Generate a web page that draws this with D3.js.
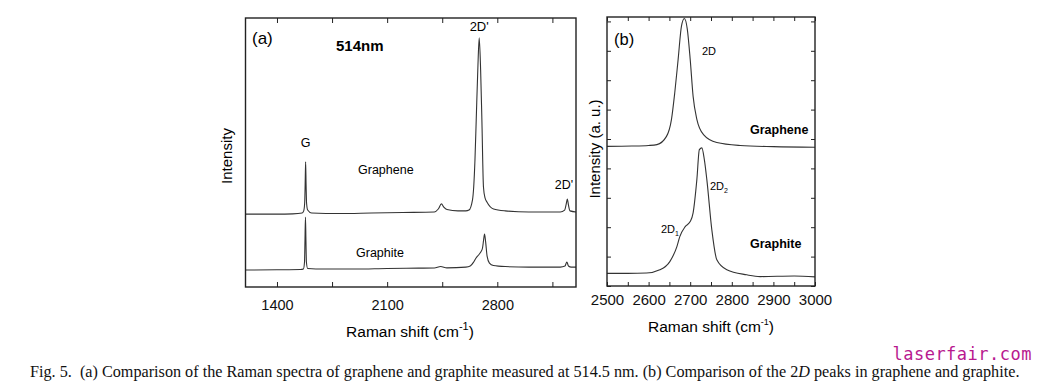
<!DOCTYPE html>
<html>
<head>
<meta charset="utf-8">
<script src="https://cdn.jsdelivr.net/npm/d3@7"></script>
<style>
  body { margin: 0; background: #fff; }
  svg { display: block; font-family: "Liberation Sans", Arial, sans-serif; }
  .frame { fill: none; stroke: #222; stroke-width: 1.4; }
  .spec { fill: none; stroke: #333; stroke-width: 1.1; }
  .tick line { stroke: #222; }
</style>
</head>
<body>
<script>
// (a) full spectra, 514 nm : [Raman shift, intensity]
var grapheneA = [
  [1200,27.1],[1400,27.1],[1500,27.2],[1560,27.5],[1570,28.3],[1576,31.2],[1579,37.9],
  [1582,46.5],[1585,37.9],[1588,31.2],[1595,28.6],[1620,27.5],[1800,27.3],[2000,27.5],
  [2200,27.7],[2400,27.9],[2425,29.0],[2445,30.9],[2460,29.7],[2480,28.8],[2550,28.3],
  [2600,28.3],[2620,28.6],[2642,32.3],[2650,37.2],[2658,47.2],[2666,62.1],[2676,80.7],
  [2685,92.6],[2694,80.7],[2702,62.1],[2712,37.2],[2722,33.1],[2734,31.6],[2776,29.0],
  [2850,28.3],[3000,27.9],[3200,27.9],[3228,28.6],[3238,30.9],[3245,32.7],[3252,30.5],
  [3262,28.3],[3300,27.9]
];
var graphiteA = [
  [1200,6.3],[1400,6.4],[1550,6.5],[1568,6.7],[1575,9.3],[1578,17.5],[1581,26.0],
  [1584,17.5],[1587,9.3],[1595,6.9],[1700,6.7],[1900,6.7],[2100,6.9],[2300,7.0],
  [2400,7.06],[2440,7.6],[2480,7.1],[2600,7.4],[2628,7.8],[2650,9.3],[2665,10.8],
  [2681,11.9],[2695,13.0],[2706,14.5],[2713,17.5],[2719,19.7],[2726,16.7],[2735,11.5],
  [2750,8.9],[2775,8.0],[2850,7.6],[3000,7.4],[3200,7.4],[3230,7.8],[3242,9.3],
  [3252,7.8],[3270,7.4],[3300,7.4]
];
// (b) 2D region
var grapheneB = [
  [2500,4.75],[2560,4.76],[2600,4.78],[2620,4.81],[2643,5.09],[2655,5.67],[2663,6.59],
  [2671,7.71],[2679,8.84],[2686,9.10],[2693,8.74],[2700,7.71],[2707,6.45],[2716,5.67],
  [2732,5.15],[2764,4.88],[2820,4.78],[2900,4.74],[3000,4.72]
];
var graphiteB = [
  [2500,0.43],[2550,0.43],[2595,0.44],[2627,0.55],[2651,0.83],[2668,1.34],[2675,1.68],
  [2688,2.02],[2700,2.19],[2707,2.49],[2716,3.62],[2722,4.64],[2728,4.70],[2734,4.30],
  [2740,3.62],[2752,1.91],[2764,0.89],[2788,0.55],[2836,0.38],[2868,0.32],[2950,0.34],
  [3000,0.31]
];

var ticksA = [1400, 2100, 2800];
var minorA = [1750, 2450, 3150];
var ticksB = [2500, 2600, 2700, 2800, 2900, 3000];
var minorB = [2550, 2650, 2750, 2850, 2950];
var yTicksB = [0, 1, 2, 3, 4, 5, 6, 7, 8, 9];

var svg = d3.select("body").append("svg")
    .attr("width", 1039)
    .attr("height", 387);

svg.append("rect").attr("width", 1039).attr("height", 387).attr("fill", "#fff");

// ---------- panel (a)
var xA = d3.scaleLinear().domain([1200, 3300]).range([245.5, 576]),
    yA = d3.scaleLinear().domain([0, 100]).range([287, 18]);

var lineA = d3.line()
    .x(function(d){ return xA(d[0]); })
    .y(function(d){ return yA(d[1]); })
    .curve(d3.curveMonotoneX);

svg.append("path").attr("class", "spec").attr("d", lineA(grapheneA));
svg.append("path").attr("class", "spec").attr("d", lineA(graphiteA));

var axA = svg.append("g")
   .attr("transform", "translate(0,287)")
   .call(d3.axisBottom(xA).tickValues(ticksA.concat(minorA)).tickSize(-5).tickSizeOuter(0)
         .tickFormat(function(d){ return ticksA.indexOf(d) >= 0 ? d : ""; }));
axA.select(".domain").remove();
axA.selectAll("text").attr("y", 13).attr("font-size", "14.5px")
   .attr("font-family", "Liberation Sans, Arial, sans-serif").attr("fill", "#111");

var axAt = svg.append("g")
   .attr("transform", "translate(0,18)")
   .call(d3.axisTop(xA).tickValues(ticksA.concat(minorA)).tickSize(-5).tickSizeOuter(0).tickFormat(""));
axAt.select(".domain").remove();

svg.append("rect").attr("class", "frame")
   .attr("x", xA.range()[0]).attr("y", yA.range()[1])
   .attr("width", xA.range()[1] - xA.range()[0])
   .attr("height", yA.range()[0] - yA.range()[1]);

svg.append("text").attr("x", 252).attr("y", 44).attr("font-size", "17px").text("(a)");
svg.append("text").attr("x", 336).attr("y", 51).attr("font-size", "15px").attr("font-weight", "bold").text("514nm");
svg.append("text").attr("x", xA(2685)).attr("y", 31).attr("font-size", "13px").attr("text-anchor", "middle").text("2D'");
svg.append("text").attr("x", xA(1582)).attr("y", 147).attr("font-size", "12.5px").attr("text-anchor", "middle").text("G");
svg.append("text").attr("x", 358).attr("y", 174).attr("font-size", "12.5px").text("Graphene");
svg.append("text").attr("x", 564).attr("y", 189).attr("font-size", "12.5px").attr("text-anchor", "middle").text("2D'");
svg.append("text").attr("x", 356).attr("y", 257).attr("font-size", "12.5px").text("Graphite");

svg.append("text").attr("transform", "translate(232,156) rotate(-90)")
   .attr("font-size", "15px").attr("text-anchor", "middle").text("Intensity");

var labA = svg.append("text").attr("x", 410).attr("y", 337).attr("font-size", "15.5px").attr("text-anchor", "middle");
labA.append("tspan").text("Raman shift (cm");
labA.append("tspan").attr("dy", -7).attr("font-size", "11px").text("-1");
labA.append("tspan").attr("dy", 7).text(")");

// ---------- panel (b)
var xB = d3.scaleLinear().domain([2500, 3000]).range([607, 815]),
    yB = d3.scaleLinear().domain([0, 9.15]).range([286, 17]);

var lineB = d3.line()
    .x(function(d){ return xB(d[0]); })
    .y(function(d){ return yB(d[1]); })
    .curve(d3.curveMonotoneX);

svg.append("path").attr("class", "spec").attr("d", lineB(grapheneB));
svg.append("path").attr("class", "spec").attr("d", lineB(graphiteB));

var axB = svg.append("g")
   .attr("transform", "translate(0,286)")
   .call(d3.axisBottom(xB).tickValues(ticksB.concat(minorB)).tickSize(-4).tickSizeOuter(0)
         .tickFormat(function(d){ return ticksB.indexOf(d) >= 0 ? d : ""; }));
axB.select(".domain").remove();
axB.selectAll("text").attr("y", 8).attr("font-size", "15px")
   .attr("font-family", "Liberation Sans, Arial, sans-serif").attr("fill", "#111");

var axBt = svg.append("g")
   .attr("transform", "translate(0,17)")
   .call(d3.axisTop(xB).tickValues(ticksB.concat(minorB)).tickSize(-4).tickSizeOuter(0).tickFormat(""));
axBt.select(".domain").remove();

var axBl = svg.append("g")
   .attr("transform", "translate(607,0)")
   .call(d3.axisLeft(yB).tickValues(yTicksB).tickSize(-4).tickSizeOuter(0).tickFormat(""));
axBl.select(".domain").remove();

var axBr = svg.append("g")
   .attr("transform", "translate(815,0)")
   .call(d3.axisRight(yB).tickValues(yTicksB).tickSize(-4).tickSizeOuter(0).tickFormat(""));
axBr.select(".domain").remove();

svg.append("rect").attr("class", "frame")
   .attr("x", xB.range()[0]).attr("y", yB.range()[1])
   .attr("width", xB.range()[1] - xB.range()[0])
   .attr("height", yB.range()[0] - yB.range()[1]);

svg.append("text").attr("x", 614).attr("y", 45).attr("font-size", "16.5px").text("(b)");
svg.append("text").attr("x", 702).attr("y", 55).attr("font-size", "11px").text("2D");
svg.append("text").attr("x", 750).attr("y", 134).attr("font-size", "12.5px").attr("font-weight", "bold").text("Graphene");
svg.append("text").attr("x", 750).attr("y", 248).attr("font-size", "12.5px").attr("font-weight", "bold").text("Graphite");

var d2 = svg.append("text").attr("x", 710).attr("y", 190).attr("font-size", "11px");
d2.append("tspan").text("2D");
d2.append("tspan").attr("dy", 3).attr("font-size", "7px").text("2");
var d1 = svg.append("text").attr("x", 661).attr("y", 233).attr("font-size", "11px");
d1.append("tspan").text("2D");
d1.append("tspan").attr("dy", 3).attr("font-size", "7px").text("1");

svg.append("text").attr("transform", "translate(600,149) rotate(-90)")
   .attr("font-size", "15px").attr("text-anchor", "middle").text("Intensity (a. u.)");

var labB = svg.append("text").attr("x", 711).attr("y", 332).attr("font-size", "15.5px").attr("text-anchor", "middle");
labB.append("tspan").text("Raman shift (cm");
labB.append("tspan").attr("dy", -7).attr("font-size", "9px").text("-1");
labB.append("tspan").attr("dy", 7).text(")");

// ---------- caption + watermark
svg.append("text").attr("x", 1032).attr("y", 360).attr("text-anchor", "end")
   .attr("font-family", "DejaVu Sans Mono, monospace").attr("font-size", "17px")
   .attr("fill", "#b8198f").attr("letter-spacing", "0.5px").text("laserfair.com");

var cap = svg.append("text").attr("x", 30).attr("y", 377)
   .attr("font-family", "Liberation Serif, Times New Roman, serif").attr("font-size", "16.2px").attr("fill", "#111");
cap.append("tspan").text("Fig. 5.\u00a0 (a) Comparison of the Raman spectra of graphene and graphite measured at 514.5 nm. (b) Comparison of the 2");
cap.append("tspan").attr("font-style", "italic").text("D");
cap.append("tspan").text(" peaks in graphene and graphite.");
</script>
</body>
</html>
